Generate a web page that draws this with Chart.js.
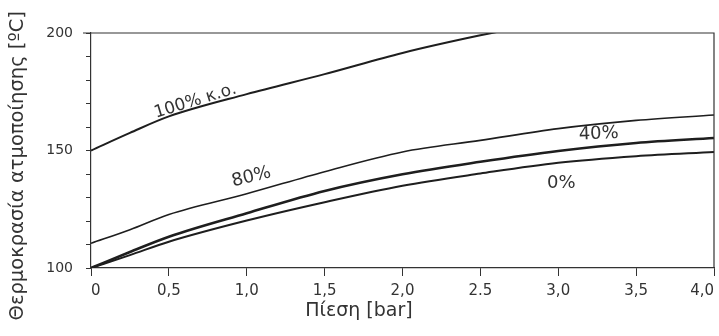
<!DOCTYPE html>
<html>
<head>
<meta charset="utf-8">
<script src="https://cdn.jsdelivr.net/npm/chart.js@4.4.0/dist/chart.umd.min.js"></script>
<style>
  html, body { margin: 0; padding: 0; background: #fff; }
  #wrap { width: 719px; height: 336px; }
</style>
</head>
<body>
<div id="wrap"><canvas id="chart" width="719" height="336"></canvas></div>
<script>
// pressure [bar]
const pressure = [0, 0.25, 0.5, 1.0, 1.5, 2.0, 2.5, 3.0, 3.5, 4.0];

// boiling temperature [°C] per curve
const ko100 = [150, 157.5, 164.5, 174, 182.5, 191.5, 199, 205.5, 211.5, 217];
const pct80 = [110.5, 116.3, 122.8, 131.6, 141, 149.4, 154.3, 159.3, 162.8, 165.1];
const pct40 = [100, 106.8, 113.3, 123.3, 132.8, 139.9, 145.2, 149.8, 153.2, 155.3];
const pct0  = [100, 105.5, 111.2, 120.2, 128, 135, 140.2, 144.8, 147.6, 149.4];

const xTickLabels = ['0', '0,5', '1,0', '1,5', '2,0', '2.5', '3,0', '3,5', '4,0'];
const yTickLabels = { 100: '100', 150: '150', 200: '200' };

const xTitle = 'Πίεση [bar]';
const yTitle = 'Θερμοκρασία ατμοποίησης [ºC]';

// curve labels, in data units
const curveLabels = [
  { text: '100% κ.ο.', x: 0.67, y: 171, rot: -17, size: 17 },
  { text: '80%',       x: 1.03, y: 138.7, rot: -14, size: 18 },
  { text: '40%',       x: 3.26, y: 157, rot: -2, size: 18 },
  { text: '0%',        x: 3.02, y: 136.2, rot: 0, size: 18 }
];

const toPoints = vals => pressure.map((p, i) => ({ x: p, y: vals[i] }));

const line = (label, vals, w) => ({
  label: label,
  data: toPoints(vals),
  borderColor: '#1e1e1e',
  borderWidth: w,
  pointRadius: 0,
  cubicInterpolationMode: 'monotone',
  fill: false,
  clip: 0
});

const frame = {
  id: 'frame',
  afterDatasetsDraw(chart) {
    const a = chart.chartArea, c = chart.ctx;
    c.save();
    c.strokeStyle = '#333';
    c.lineWidth = 1.2;
    c.beginPath();
    c.moveTo(a.left - 8, a.top);
    c.lineTo(a.right, a.top);
    c.lineTo(a.right, a.bottom);
    c.stroke();
    c.restore();
  }
};

const labelsPlugin = {
  id: 'curveLabels',
  afterDatasetsDraw(chart) {
    const c = chart.ctx, xs = chart.scales.x, ys = chart.scales.y;
    c.save();
    c.fillStyle = '#333';
    c.textAlign = 'center';
    c.textBaseline = 'middle';
    curveLabels.forEach(l => {
      c.save();
      c.translate(xs.getPixelForValue(l.x), ys.getPixelForValue(l.y));
      c.rotate(l.rot * Math.PI / 180);
      c.font = l.size + 'px "DejaVu Sans"';
      c.fillText(l.text, 0, 0);
      c.restore();
    });
    // axis titles (off-centre in the original)
    c.font = '19px "DejaVu Sans"';
    c.fillText(xTitle, xs.getPixelForValue(1.72), 311);
    c.save();
    c.translate(18, ys.getPixelForValue(143.5));
    c.rotate(-Math.PI / 2);
    c.font = '19.5px "DejaVu Sans"';
    c.fillText(yTitle, 0, 0);
    c.restore();
    c.restore();
  }
};

new Chart(document.getElementById('chart'), {
  type: 'line',
  data: {
    datasets: [
      line('100% κ.ο.', ko100, 2),
      line('80%', pct80, 1.6),
      line('40%', pct40, 2.6),
      line('0%', pct0, 2)
    ]
  },
  options: {
    responsive: false,
    animation: false,
    layout: { padding: { top: 33, right: 5, left: 0, bottom: 0 } },
    plugins: { legend: { display: false }, tooltip: { enabled: false } },
    scales: {
      x: {
        type: 'linear',
        min: 0,
        max: 4,
        afterBuildTicks: s => { s.ticks = xTickLabels.map((t, i) => ({ value: i * 0.5 })); },
        afterFit: s => { s.height = 68; s.paddingRight = 0; s.paddingLeft = 0; },
        ticks: {
          autoSkip: false,
          maxRotation: 0,
          align: 'inner',
          padding: 6,
          color: '#333',
          font: { family: 'DejaVu Sans', size: 15 },
          callback: (v, i) => xTickLabels[i]
        },
        grid: { drawOnChartArea: false, drawTicks: true, tickLength: 8, color: '#333' },
        border: { color: '#333', width: 1.2 }
      },
      y: {
        min: 100,
        max: 200,
        afterFit: s => { s.width = 91; },
        ticks: {
          stepSize: 10,
          autoSkip: false,
          padding: 13,
          color: '#333',
          font: { family: 'DejaVu Sans', size: 14 },
          callback: v => yTickLabels[v] || ''
        },
        grid: { drawOnChartArea: false, drawTicks: true, tickLength: 5, color: '#333' },
        border: { color: '#333', width: 1.2 }
      }
    }
  },
  plugins: [frame, labelsPlugin]
});
</script>
</body>
</html>
